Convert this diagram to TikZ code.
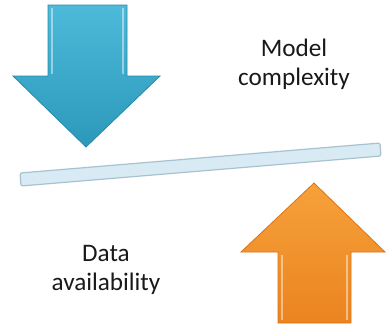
\documentclass[tikz,border=0pt]{standalone}
\usepackage{fontspec}
\setmainfont{Carlito}
\definecolor{bluetop}{HTML}{4DBADA}
\definecolor{bluebot}{HTML}{2C98BA}
\definecolor{blueedge}{HTML}{2A8AA8}
\definecolor{orangetop}{HTML}{F6A13A}
\definecolor{orangebot}{HTML}{EB8420}
\definecolor{orangeedge}{HTML}{D9741A}
\definecolor{barfill}{HTML}{D8EAF3}
\definecolor{baredge}{HTML}{A8C3CF}
\tikzset{label text/.style={font=\fontsize{12.6}{14.5}\selectfont,align=center,text=black!90}}
\begin{document}
\begin{tikzpicture}[x=0.5pt,y=-0.5pt]
\useasboundingbox(0,0)rectangle(386,328);
% bar
\draw[baredge,fill=barfill,line width=0.6pt,rounded corners=1pt](20,173)--(380,143)--(381,156)--(21,186)--cycle;
% blue arrow down
\shade[top color=bluetop,bottom color=bluebot,draw=blueedge,line width=0.4pt]
(48,5)--(127,5)--(127,76)--(160,76)--(86,147)--(13,76)--(48,76)--cycle;
% orange arrow up
\shade[top color=orangetop,bottom color=orangebot,draw=orangeedge,line width=0.4pt]
(278,323)--(351,323)--(351,252)--(385,252)--(314,183)--(241,252)--(278,252)--cycle;
\foreach \x in{52,123}\draw[white,opacity=0.45,line width=1pt](\x,8)--(\x,74);
\foreach \x in{282,347}\draw[white,opacity=0.45,line width=1pt](\x,255)--(\x,320);
\node[label text](model)at(294,64){Model\\complexity};
\node[label text](data)at(106,270){Data\\availability};
\end{tikzpicture}
\end{document}
